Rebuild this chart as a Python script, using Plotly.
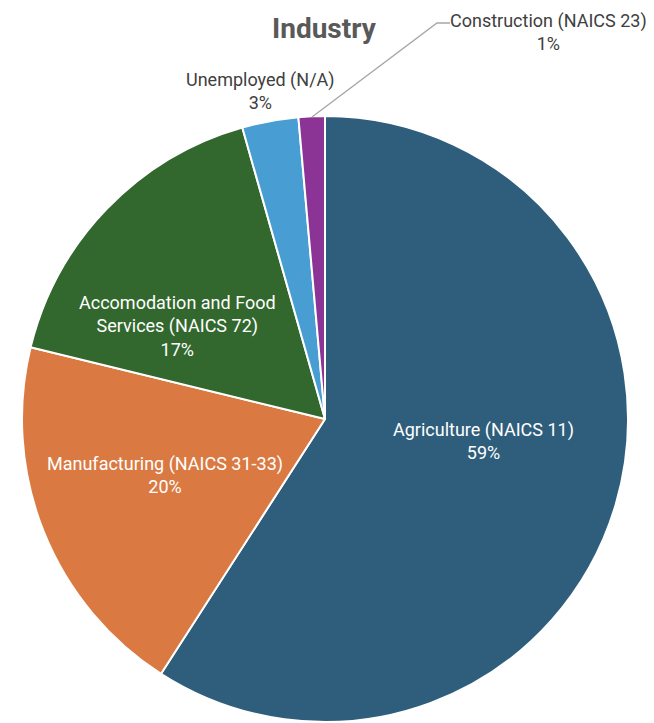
import plotly.graph_objects as go

categories = ["Agriculture (NAICS 11)", "Manufacturing (NAICS 31-33)",
              "Accomodation and Food Services (NAICS 72)", "Unemployed (N/A)",
              "Construction (NAICS 23)"]
display_labels = ["Agriculture (NAICS 11)", "Manufacturing (NAICS 31-33)",
                  "Accomodation and Food<br>Services (NAICS 72)", "Unemployed (N/A)",
                  "Construction (NAICS 23)"]
values = [59.1, 19.7, 16.8, 3.0, 1.4]
colors = ["#2E5E7C", "#DA7A42", "#32682E", "#489DD2", "#8C3496"]

W, H = 654, 723
OFF = 8  # page body margin
FONT = "Roboto, Arial, sans-serif"


def px(x):
    return (x - OFF) / W


def py(y):
    return 1 - (y - OFF) / H


total = sum(values)
cx, cy, r = 325, 419, 303
fig = go.Figure(go.Pie(
    labels=categories, values=values, sort=False, direction="clockwise", rotation=0,
    marker=dict(colors=colors, line=dict(color="white", width=2)),
    textinfo="none",
    domain=dict(x=[px(cx - r), px(cx + r)], y=[py(cy + r), py(cy - r)]),
    showlegend=False, hoverinfo="label+percent",
))

# label positions (page pixels) and colors
label_pos = [(483, 441), (165, 475), (178, 326), (260, 91), (548, 32)]
label_col = ["white", "white", "white", "#404040", "#404040"]
for i, ((lx, ly), col) in enumerate(zip(label_pos, label_col)):
    fig.add_annotation(x=px(lx), y=py(ly), xref="paper", yref="paper",
                       text=f"{display_labels[i]}<br>{round(100 * values[i] / total)}%",
                       showarrow=False, font=dict(size=18, color=col, family=FONT),
                       align="center", xanchor="center", yanchor="middle")

# leader line for Construction
fig.add_shape(type="path", xref="paper", yref="paper",
              path=f"M {px(312)},{py(117)} L {px(437)},{py(23)} L {px(450)},{py(23)}",
              line=dict(color="#A6A6A6", width=1.3))

fig.add_annotation(x=px(324), y=py(28), xref="paper", yref="paper", text="<b>Industry</b>",
                   showarrow=False, font=dict(size=28, color="#595959", family=FONT),
                   xanchor="center", yanchor="middle")

fig.update_layout(width=W, height=H, margin=dict(l=0, r=0, t=0, b=0),
                  paper_bgcolor="white", plot_bgcolor="white")
fig.write_html("out.html")
